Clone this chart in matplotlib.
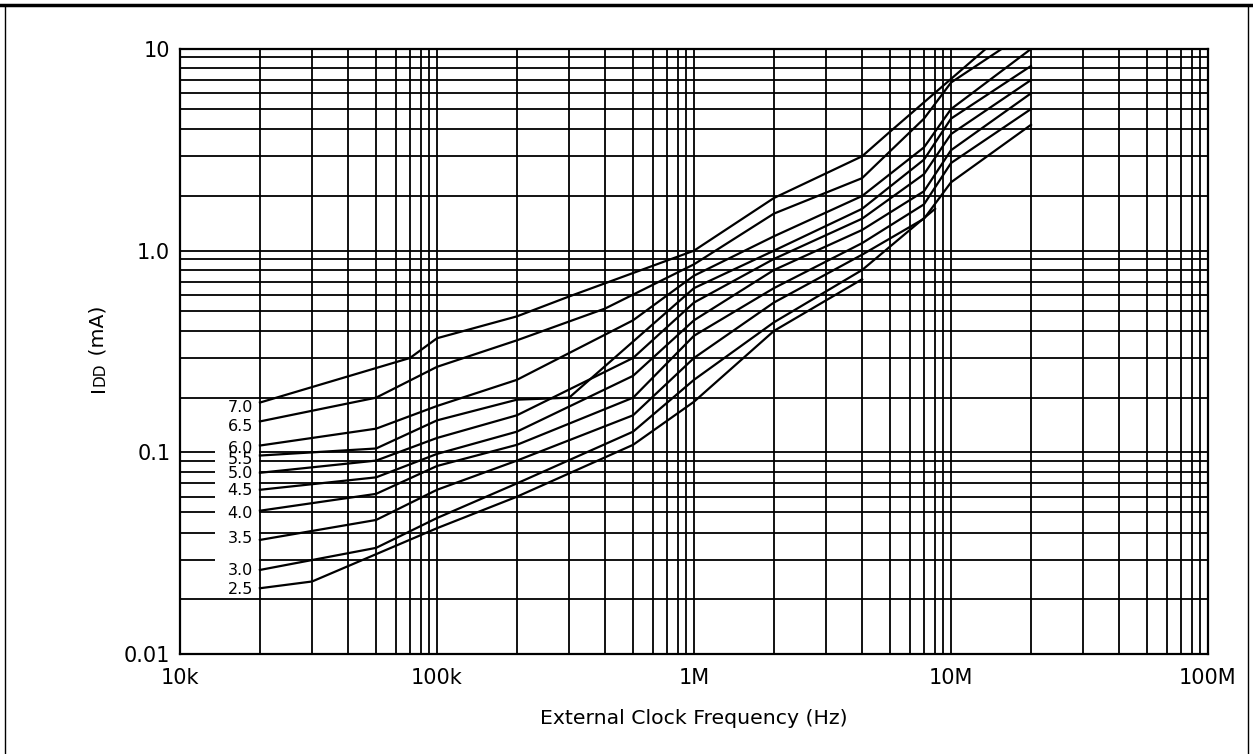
import numpy as np
import matplotlib
matplotlib.use('Agg')
import matplotlib.pyplot as plt
from matplotlib.ticker import FixedLocator, FixedFormatter, NullFormatter
from matplotlib.transforms import blended_transform_factory
from matplotlib.patches import Rectangle
from matplotlib.lines import Line2D

plt.rcParams['font.family'] = ['DejaVu Sans']

# supply voltage of each curve (label text)
VOLTS = ['7.0', '6.5', '6.0', '5.5', '5.0', '4.5', '4.0', '3.5', '3.0', '2.5']

# external clock frequency (Hz) / IDD (mA)
F_70 = [20e3, 70e3, 100e3, 200e3, 300e3, 1e6, 2e6, 4e6, 5e6, 13.5e6]
I_70 = [0.188, 0.30, 0.37, 0.47, 0.59, 1.0, 1.95, 3.0, 3.9, 10.0]
F_65 = [20e3, 50e3, 100e3, 200e3, 400e3, 1e6, 2e6, 4e6, 7e6, 10e6, 15.5e6]
I_65 = [0.148, 0.20, 0.274, 0.362, 0.513, 0.85, 1.6, 2.4, 4.5, 6.8, 10.0]
F_60 = [20e3, 50e3, 100e3, 200e3, 500e3, 1e6, 2e6, 4e6, 7e6, 10e6, 20e6]
I_60 = [0.109, 0.135, 0.18, 0.24, 0.45, 0.75, 1.2, 2.0, 3.3, 5.0, 10.0]
F_55 = [20e3, 50e3, 100e3, 200e3, 300e3, 1e6, 2e6, 4e6, 7e6, 10e6, 20e6]
I_55 = [0.096, 0.105, 0.15, 0.195, 0.20, 0.65, 1.0, 1.7, 2.9, 4.5, 8.2]
F_50 = [20e3, 50e3, 100e3, 200e3, 500e3, 1e6, 2e6, 4e6, 7e6, 10e6, 20e6]
I_50 = [0.079, 0.09, 0.12, 0.16, 0.30, 0.55, 0.9, 1.5, 2.5, 3.8, 7.0]
F_45 = [20e3, 50e3, 100e3, 200e3, 500e3, 1e6, 2e6, 4e6, 7e6, 10e6, 20e6]
I_45 = [0.065, 0.075, 0.098, 0.13, 0.25, 0.45, 0.8, 1.3, 2.1, 3.2, 6.0]
F_40 = [20e3, 50e3, 100e3, 200e3, 500e3, 1e6, 2e6, 4e6, 7e6, 10e6, 20e6]
I_40 = [0.051, 0.062, 0.085, 0.11, 0.20, 0.38, 0.65, 1.1, 1.8, 2.8, 5.0]
F_35 = [20e3, 50e3, 100e3, 200e3, 500e3, 1e6, 2e6, 4e6, 7e6, 10e6, 20e6]
I_35 = [0.037, 0.046, 0.065, 0.09, 0.16, 0.30, 0.55, 0.95, 1.5, 2.3, 4.2]
F_30 = [20e3, 50e3, 100e3, 200e3, 500e3, 1e6, 2e6, 4e6, 8e6]
I_30 = [0.027, 0.034, 0.047, 0.07, 0.13, 0.24, 0.44, 0.8, 1.7]
F_25 = [20e3, 30e3, 100e3, 200e3, 500e3, 1e6, 2e6, 4e6]
I_25 = [0.0224, 0.024, 0.042, 0.06, 0.11, 0.19, 0.4, 0.72]

CURVES = [(F_70, I_70), (F_65, I_65), (F_60, I_60), (F_55, I_55), (F_50, I_50),
          (F_45, I_45), (F_40, I_40), (F_35, I_35), (F_30, I_30), (F_25, I_25)]

X_TICKS = [1e4, 1e5, 1e6, 1e7, 1e8]
X_LABELS = ['10k', '100k', '1M', '10M', '100M']
Y_TICKS = [0.01, 0.1, 1, 10]
Y_LABELS = ['0.01', '0.1', '1.0', '10']

# the printed log paper is not spaced exactly logarithmically:
# position of the 1..10 lines inside one decade
MANT = np.arange(1, 11)
X_FRAC = [0, 0.311, 0.514, 0.654, 0.763, 0.840, 0.895, 0.938, 0.969, 1.0]
Y_FRAC = [0, 0.271, 0.468, 0.602, 0.702, 0.780, 0.846, 0.904, 0.959, 1.0]

# vertical nudge (points) of each voltage label from its curve start
LABEL_DY = [-3.4, -3.8, -2.2, -2.9, -0.7, -0.7, -2.2, 0.7, -0.7, -0.7]


def paper_scale(frac):
    logm = np.log10(MANT)

    def forward(v):
        v = np.asarray(v, dtype=float)
        out = np.full(v.shape, np.nan)
        ok = v > 0
        lv = np.log10(v[ok])
        d = np.floor(lv + 1e-9)
        out[ok] = d + np.interp(lv - d, logm, frac)
        return out

    def inverse(u):
        u = np.asarray(u, dtype=float)
        d = np.floor(u + 1e-9)
        return 10 ** (d + np.interp(u - d, frac, logm))

    return forward, inverse


W, H = 1253, 754
fig = plt.figure(figsize=(W / 100, H / 100), dpi=100)
ax = fig.add_axes([180 / W, 1 - 654 / H, 1028 / W, 605 / H])

ax.set_xscale('function', functions=paper_scale(X_FRAC))
ax.set_yscale('function', functions=paper_scale(Y_FRAC))
ax.set_xlim(1e4, 1e8)
ax.set_ylim(0.01, 10)

minor_x = [m * 10 ** d for d in range(4, 8) for m in range(2, 10)]
minor_y = [m * 10.0 ** d for d in range(-2, 1) for m in range(2, 10)]
ax.xaxis.set_major_locator(FixedLocator(X_TICKS))
ax.xaxis.set_major_formatter(FixedFormatter(X_LABELS))
ax.xaxis.set_minor_locator(FixedLocator(minor_x))
ax.xaxis.set_minor_formatter(NullFormatter())
ax.yaxis.set_major_locator(FixedLocator(Y_TICKS))
ax.yaxis.set_major_formatter(FixedFormatter(Y_LABELS))
ax.yaxis.set_minor_locator(FixedLocator(minor_y))
ax.yaxis.set_minor_formatter(NullFormatter())

ax.set_axisbelow(True)
ax.grid(True, which='both', color='black', linewidth=1.3)
ax.tick_params(which='both', length=0, labelsize=15, colors='black')
ax.tick_params(axis='x', pad=10)
ax.tick_params(axis='y', pad=7)
for sp in ax.spines.values():
    sp.set_linewidth(1.6)

# white box behind the voltage labels
box_tf = blended_transform_factory(ax.transAxes, ax.transData)
ax.add_patch(Rectangle((0.034, 0.0206), 0.0425, 0.195 - 0.0206, transform=box_tf,
                       facecolor='white', edgecolor='none', zorder=1))

for volt, dy, (f, i) in zip(VOLTS, LABEL_DY, CURVES):
    ax.plot(f, i, color='black', linewidth=1.6, zorder=3)
    ax.annotate(volt, xy=(f[0], i[0]), xytext=(-5, dy), textcoords='offset points',
                ha='right', va='center', fontsize=11.5, zorder=4)

ax.set_xlabel('External Clock Frequency (Hz)', fontsize=14.7, labelpad=15)

# y label "IDD (mA)" with the DD set smaller, stacked bottom to top
renderer = fig.canvas.get_renderer()
y_pos = 1 - 392 / H
for part, size in [('I', 14.7), ('DD', 11), (' (mA)', 14.7)]:
    t = fig.text(104 / W, y_pos, part, rotation=90, rotation_mode='anchor',
                 ha='left', va='baseline', fontsize=size)
    y_pos += t.get_window_extent(renderer).height / fig.bbox.height

# page frame of the datasheet figure
fig.add_artist(Line2D([0, 1], [1 - 5 / H] * 2, color='black', linewidth=2.5))
fig.add_artist(Line2D([5 / W] * 2, [0, 1 - 5 / H], color='black', linewidth=1.0))
fig.add_artist(Line2D([1248 / W] * 2, [0, 1 - 5 / H], color='black', linewidth=1.0))

fig.savefig('out.png', dpi=100)
